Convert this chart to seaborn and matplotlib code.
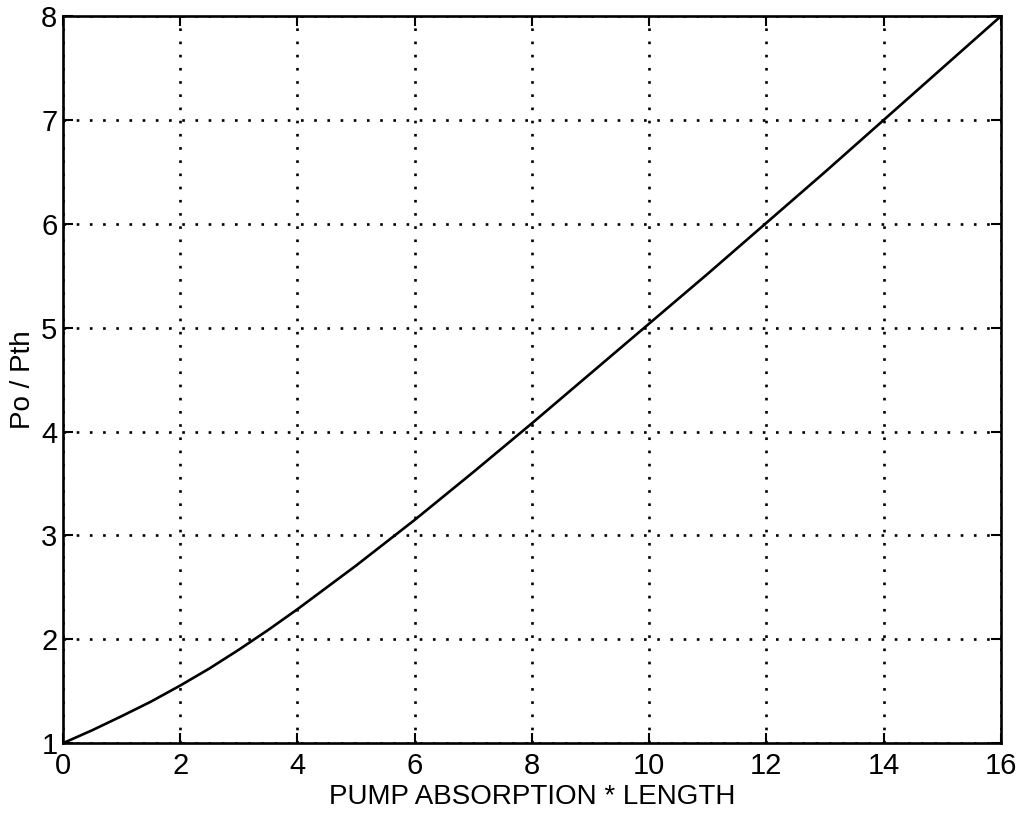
import matplotlib
matplotlib.use("Agg")
import matplotlib.pyplot as plt
import seaborn as sns
import pandas as pd

# Data
absorption_length = [0, 0.5, 1, 1.5, 2, 2.5, 3, 3.5, 4, 4.5, 5, 5.5, 6, 6.5, 7, 7.5, 8,
                     9, 10, 11, 12, 13, 14, 15, 16]
po_over_pth = [1.00, 1.125, 1.26, 1.40, 1.555, 1.72, 1.90, 2.09, 2.29, 2.50, 2.71, 2.93,
               3.15, 3.38, 3.61, 3.845, 4.08, 4.56, 5.04, 5.52, 6.01, 6.50, 7.00, 7.50, 8.00]
x_ticks = [0, 2, 4, 6, 8, 10, 12, 14, 16]
y_ticks = [1, 2, 3, 4, 5, 6, 7, 8]
x_label = "PUMP ABSORPTION * LENGTH"
y_label = "Po / Pth"

sns.set_theme(style="white")
plt.rcParams['font.family'] = ['Liberation Sans', 'DejaVu Sans']

df = pd.DataFrame({"x": absorption_length, "y": po_over_pth})

fig = plt.figure(figsize=(10.16, 8.14), dpi=100)
ax = fig.add_axes([0.062, 0.087, 0.923, 0.893])

sns.lineplot(data=df, x="x", y="y", ax=ax, color="black", linewidth=1.9)

ax.set_xlim(0, 16)
ax.set_ylim(1, 8)
ax.set_xticks(x_ticks)
ax.set_yticks(y_ticks)
ax.set_xticklabels([str(t) for t in x_ticks], fontsize=21)
ax.set_yticklabels([str(t) for t in y_ticks], fontsize=21)
ax.set_xlabel(x_label, fontsize=20, labelpad=3, color="black")
ax.set_ylabel(y_label, fontsize=20, labelpad=4, color="black")

ax.grid(True, color="black", linestyle=(0, (1, 4)), linewidth=1.9)
ax.tick_params(direction="in", length=7, width=1.5, top=True, right=True,
               bottom=True, left=True, colors="black")
ax.tick_params(axis="x", pad=6)
ax.tick_params(axis="y", pad=4)
for s in ax.spines.values():
    s.set_color("black")
    s.set_linewidth(1.9)

fig.savefig("out.png", dpi=100, facecolor="white")
